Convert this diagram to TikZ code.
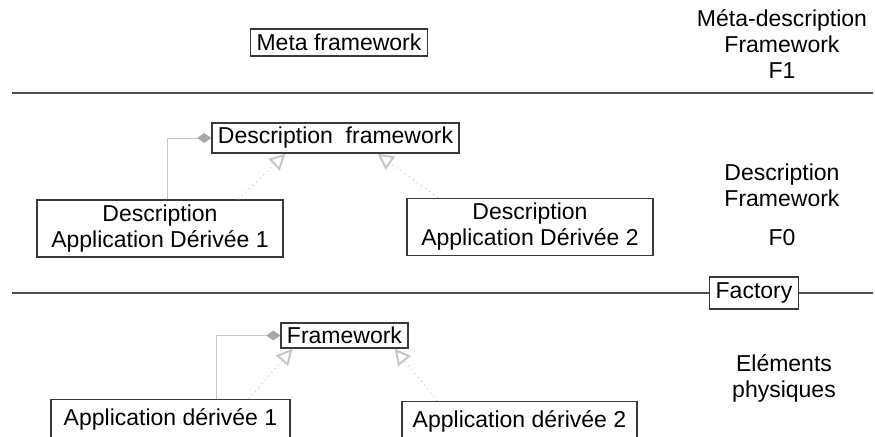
\documentclass[tikz,border=0pt]{standalone}
\usepackage{fontspec}
\setmainfont{Liberation Sans}
\usetikzlibrary{arrows.meta,calc}
\definecolor{boxline}{HTML}{3A3A3A}
\definecolor{linkgray}{HTML}{C6C6C6}
\tikzset{
  basic box/.style = {
    shape = rectangle,
    align = center,
    draw  = boxline,
    line width = 0.7pt,
    inner xsep = 3pt,
    inner ysep = 2pt,
    font = \fontsize{11.5}{13}\selectfont},
  side text/.style = {
    align = center,
    font = \fontsize{11.5}{13}\selectfont},
  composition/.style = {
    draw = linkgray, line width = 0.5pt,
    -{Diamond[length=7pt, width=5pt, color=linkgray!85!black, fill=linkgray!85!black]}},
  realization/.style = {
    draw = linkgray, dotted, line width = 0.5pt,
    -{Triangle[open, length=8pt, width=8pt, line width=1pt]}},
  separator/.style = {draw = black!70, line width = 1pt}
}

\begin{document}
\begin{tikzpicture}[x=0.5pt, y=-0.5pt]
  \clip (0,0) rectangle (875,436);
  % meta level
  \node[basic box, minimum height = 13.5pt] (meta) at (339,42.5) {Meta framework};
  \node[side text] (metalabel) at (782,44) {Méta-description \\ Framework \\ F1};
  \coordinate (line1 start) at (12,93);
  \coordinate (line1 end) at (873,93);
  \draw[separator] (line1 start) -- (line1 end);
  % description level
  \node[basic box, minimum height = 15pt] (descfw) at (335.5,138) {Description\ \ framework};
  \node[basic box, minimum width = 123pt, minimum height = 28.5pt] (descapp1) at (160,228.5) {Description \\ Application Dérivée 1};
  \node[basic box, minimum width = 123pt, minimum height = 28.5pt] (descapp2) at (530,227) {Description \\ Application Dérivée 2};
  \node[side text] (desclabel) at (782,204.5) {Description \\ Framework \\[6.5pt] F0};
  \draw[composition] ([xshift=3.5pt]descapp1.north) |- (descfw.west);
  \draw[realization] ([xshift=39pt]descapp1.north) -- ([xshift=-25pt]descfw.south);
  \draw[realization] ([xshift=-46pt]descapp2.north) -- ([xshift=21pt]descfw.south);
  \node[basic box, minimum height = 16pt] (factory) at (754,293) {Factory};
  \coordinate (line2 start) at (12,293);
  \coordinate (line2 end) at (873,293);
  \draw[separator] (line2 start) -- (factory) -- (line2 end);
  % physical level
  \node[basic box, minimum height = 12.5pt] (fw) at (344.5,335.5) {Framework};
  \node[basic box, anchor = north, minimum width = 119.5pt, text height = 10pt, text depth = 10pt, inner ysep = 3pt] (app1) at (170.5,399) {Application dérivée 1};
  \node[basic box, anchor = north, minimum width = 117.5pt, text height = 10pt, text depth = 10pt, inner ysep = 3pt] (app2) at (519.5,401) {Application dérivée 2};
  \node[side text] (physlabel) at (784,378) {Eléments \\ physiques};
  \draw[composition] ([xshift=23pt]app1.north) |- (fw.west);
  \draw[realization] ([xshift=39pt]app1.north) -- ([xshift=-26pt]fw.south);
  \draw[realization] ([xshift=-41pt]app2.north) -- ([xshift=25pt]fw.south);
\end{tikzpicture}
\end{document}
